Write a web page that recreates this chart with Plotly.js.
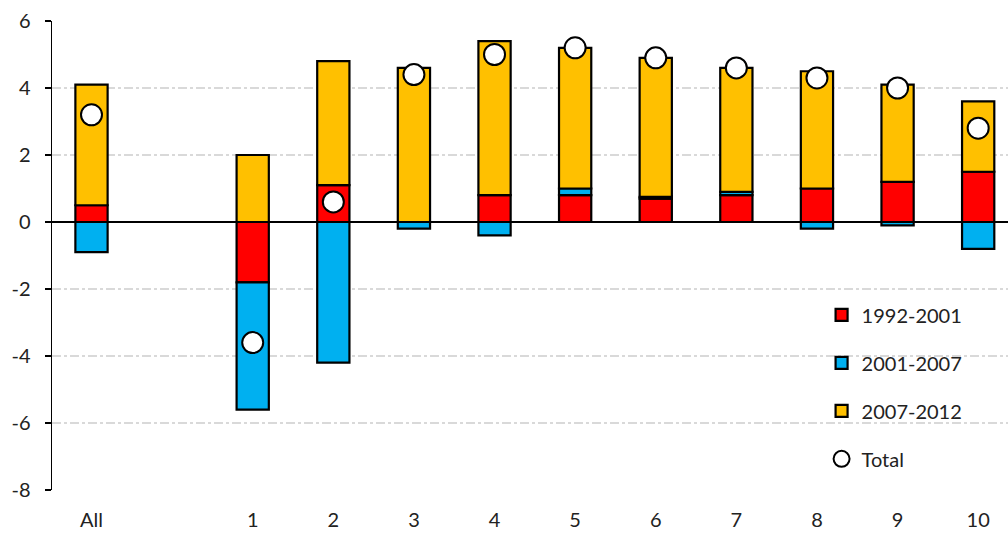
<!DOCTYPE html>
<html>
<head>
<meta charset="utf-8">
<script src="https://cdn.plot.ly/plotly-3.0.1.min.js"></script>
<style>html,body{margin:0;padding:0;background:#fff;}#chart{width:1008px;height:534px;}</style>
</head>
<body>
<div id="chart"></div>
<script>
const categories = ["All", " ", "1", "2", "3", "4", "5", "6", "7", "8", "9", "10"];
const p1992_2001 = [0.5, null, -1.8, 1.1, 0.0, 0.8, 0.8, 0.7, 0.8, 1.0, 1.2, 1.5];
const p2001_2007 = [-0.9, null, -3.8, -4.2, -0.2, -0.4, 0.2, 0.05, 0.1, -0.2, -0.1, -0.8];
const p2007_2012 = [3.6, null, 2.0, 3.7, 4.6, 4.6, 4.2, 4.15, 3.7, 3.5, 2.9, 2.1];
const total = [3.2, null, -3.6, 0.6, 4.4, 5.0, 5.2, 4.9, 4.6, 4.3, 4.0, 2.8];
const yTicks = [-8, -6, -4, -2, 0, 2, 4, 6];

const fontFam = "Lato, 'Open Sans', sans-serif";
function barTrace(name, y, color, grp) {
  return {
    type: "bar", name: name, x: categories, y: y,
    width: 0.4, legendgroup: grp,
    marker: {color: color, line: {color: "#000", width: 2.2}}
  };
}
const data = [
  barTrace("1992-2001", p1992_2001, "#FF0000", "a"),
  barTrace("2001-2007", p2001_2007, "#00B0F0", "b"),
  barTrace("2007-2012", p2007_2012, "#FFC000", "c"),
  {
    type: "scatter", mode: "markers", name: "Total", x: categories, y: total,
    legendgroup: "d",
    marker: {symbol: "circle", size: 21, color: "#fff", line: {color: "#000", width: 2}}
  }
];
const layout = {
  width: 1008, height: 534,
  margin: {l: 52, r: 0, t: 21, b: 44},
  paper_bgcolor: "#fff", plot_bgcolor: "#fff",
  barmode: "relative",
  font: {family: fontFam, size: 20, color: "#222"},
  showlegend: true,
  legend: {
    x: 0.805, y: 0.415, xanchor: "left", yanchor: "top",
    tracegroupgap: 19, bgcolor: "rgba(0,0,0,0)",
    font: {family: fontFam, size: 20, color: "#222"}
  },
  xaxis: {
    type: "category", range: [-0.49, 11.37],
    showgrid: false, zeroline: false, showline: false,
    ticks: "", ticklabelstandoff: 16,
    tickfont: {family: fontFam, size: 20, color: "#222"}
  },
  yaxis: {
    range: [-8, 6], tickvals: yTicks, ticktext: yTicks.map(String),
    showgrid: true, gridcolor: "#d9d9d9", griddash: "dashdot", gridwidth: 1.5,
    zeroline: true, zerolinecolor: "#000", zerolinewidth: 1.5,
    showline: true, linecolor: "#000", linewidth: 1.5,
    ticks: "outside", ticklen: 6, tickcolor: "#000", tickwidth: 1.5,
    ticklabelstandoff: 10,
    tickfont: {family: fontFam, size: 20, color: "#222"}
  }
};
Plotly.newPlot("chart", data, layout, {displayModeBar: false, staticPlot: true});
</script>
</body>
</html>
